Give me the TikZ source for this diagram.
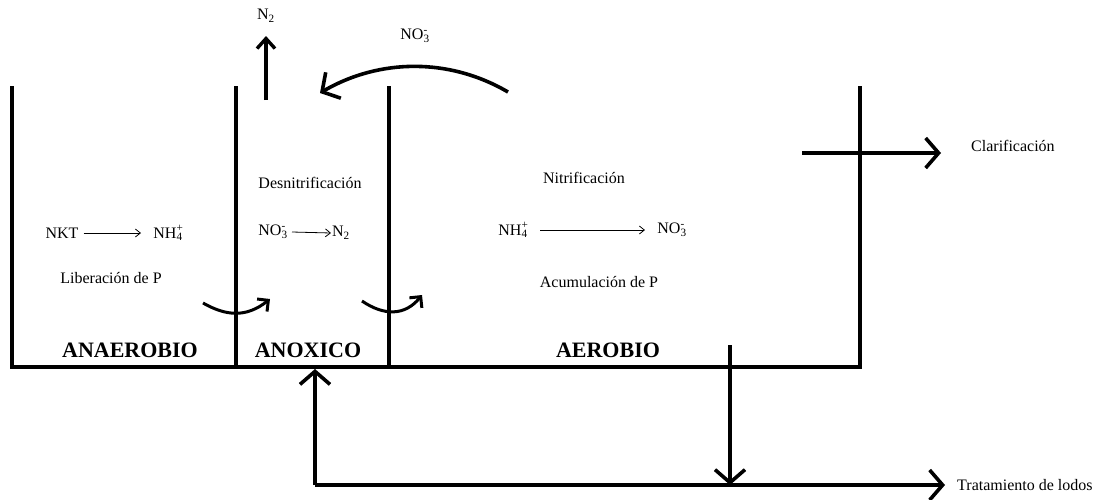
\documentclass[tikz,border=0pt]{standalone}
\usepackage{fontspec}
\setmainfont{Liberation Serif}
\usetikzlibrary{arrows.meta}
\newcommand\subsup[2]{\rlap{\textsuperscript{#2}}\textsubscript{#1}}
\tikzset{
  wall/.style={line width=3.6pt, line cap=rect},
  bigarrow/.style={line width=3.6pt, -{Straight Barb[length=13pt,width=30pt,line width=3.6pt]}},
  midarrow/.style={line width=3.4pt, -{Straight Barb[length=10pt,width=18pt,line width=3.4pt]}},
  smallarrow/.style={line width=3pt, -{Straight Barb[length=8pt,width=16pt,line width=3pt]}},
  thinarrow/.style={line width=0.8pt, -{Straight Barb[length=5pt,width=8pt,line width=0.8pt]}},
  txt/.style={font=\fontsize{16}{19}\selectfont, inner sep=1pt},
  zone/.style={font=\fontsize{22}{26}\selectfont\bfseries, inner sep=1pt}
}
\begin{document}
\begin{tikzpicture}[x=1pt,y=-1pt]
\useasboundingbox (0,0) rectangle (1106,499);
% tank
\draw[wall] (12,88) -- (12,367) -- (860,367) -- (860,88);
\draw[wall] (236,88) -- (236,367);
\draw[wall] (389,88) -- (389,367);
% zone labels
\node[zone] (anaer) at (130,350) {ANAEROBIO};
\node[zone] (anox) at (308,350) {ANOXICO};
\node[zone] (aer) at (608,350) {AEROBIO};
% anaerobic
\node[txt] (nkt) at (62,233) {NKT};
\node[txt] (nh4a) at (168,233) {NH\subsup{4}{+}};
\draw[thinarrow] (nkt.east) ++(4,0) coordinate (a1) -- (141,233) coordinate (a2);
\node[txt] (lib) at (111,278) {Liberación de P};
% anoxic
\node[txt] (desn) at (310,183) {Desnitrificación};
\node[txt] (no3b) at (273,232) {NO\subsup{3}{-}};
\node[txt] (n2b) at (341,233) {N\textsubscript{2}};
\draw[thinarrow] (292,232) coordinate (b1) -- (n2b.west) ;
% aerobic
\node[txt] (nitr) at (584,178) {Nitrificación};
\node[txt] (nh4c) at (513,230) {NH\subsup{4}{+}};
\node[txt] (no3c) at (672,230) {NO\subsup{3}{-}};
\draw[thinarrow] (540,230) coordinate (c1) -- (645,230) coordinate (c2);
\node[txt] (acum) at (599,282) {Acumulación de P};
% N2 out
\node[txt] (n2top) at (266,16) {N\textsubscript{2}};
\coordinate (n2s) at (266,100);
\draw[midarrow] (n2s) -- (266,36);
% NO3 recirculation
\node[txt] (no3top) at (415,36) {NO\subsup{3}{-}};
\coordinate (r1) at (508,92);
\coordinate (r2) at (320,93);
\draw[bigarrow] (r1) .. controls (450,58) and (380,58) .. (r2);
% small transfer arrows
\coordinate (s1) at (203,303);
\coordinate (s2) at (270,299);
\draw[smallarrow] (s1) .. controls (226,316) and (246,318) .. (s2);
\coordinate (t1) at (362,301);
\coordinate (t2) at (422,295);
\draw[smallarrow] (t1) .. controls (384,316) and (405,316) .. (t2);
% clarification
\node[txt, anchor=west] (clar) at (970,146) {Clarificación};
\coordinate (k1) at (802,153);
\draw[bigarrow] (k1) -- (941,153);
% sludge
\node[txt, anchor=west] (lodos) at (956,485) {Tratamiento de lodos};
\coordinate (d1) at (730,345);
\coordinate (d2) at (730,485);
\coordinate (u1) at (315,485);
\draw[bigarrow] (d1) -- (d2);
\draw[line width=3.6pt] (u1) -- (d2);
\draw[bigarrow] (d2) -- (945,485);
\draw[bigarrow] (u1) -- (315,369);
\end{tikzpicture}
\end{document}
